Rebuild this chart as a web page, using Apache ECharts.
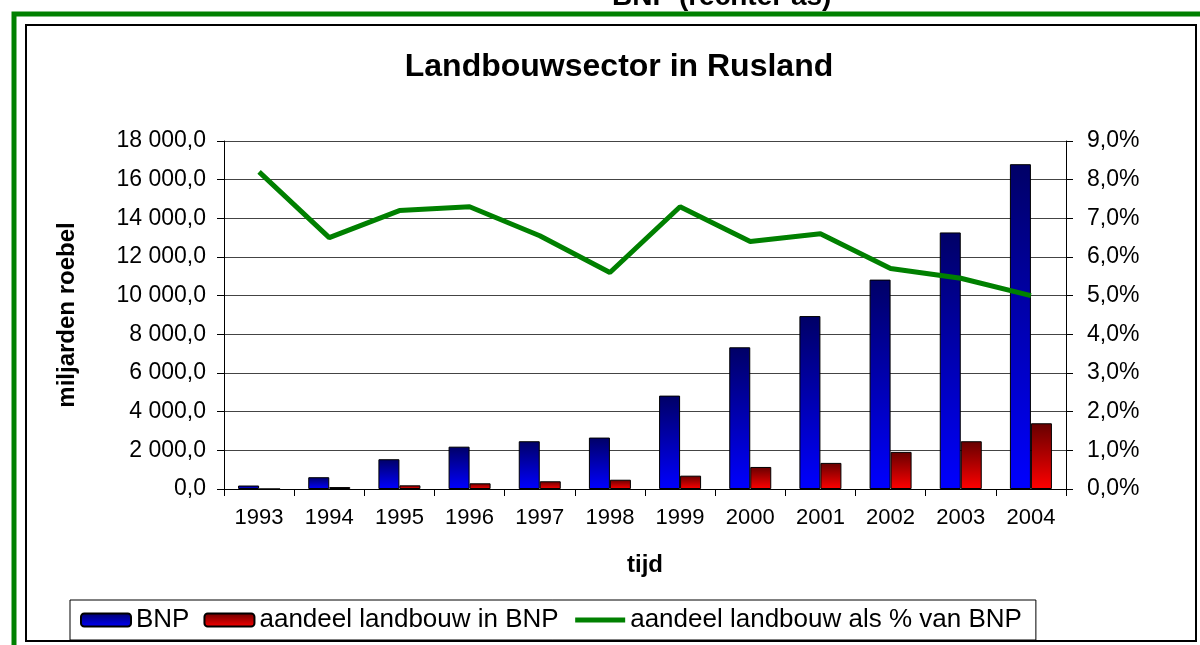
<!DOCTYPE html>
<html>
<head>
<meta charset="utf-8">
<title>Landbouwsector in Rusland</title>
<script src="https://cdn.jsdelivr.net/npm/echarts@6/dist/echarts.min.js"></script>
<style>
  html, body { margin: 0; padding: 0; background: #fff; }
  #chart { width: 1200px; height: 645px; }
</style>
</head>
<body>
<div id="chart"></div>
<script>
const years = ['1993', '1994', '1995', '1996', '1997', '1998', '1999', '2000', '2001', '2002', '2003', '2004'];
// miljarden roebel
const bnp = [180, 610, 1540, 2190, 2470, 2660, 4830, 7330, 8945, 10830, 13270, 16800];
const landbouw = [0, 100, 190, 295, 400, 480, 690, 1140, 1350, 1920, 2470, 3400];
// procent van BNP
const aandeelPct = [8.2, 6.5, 7.2, 7.3, 6.55, 5.6, 7.3, 6.4, 6.6, 5.7, 5.45, 5.0];

const FONT = '"Liberation Sans", Arial, sans-serif';

function fmtRoebel(v) {
  const int = Math.round(v).toString().replace(/\B(?=(\d{3})+(?!\d))/g, ' ');
  return int + ',0';
}

function fmtPct(v) {
  return v.toFixed(1).replace('.', ',') + '%';
}

function grad(top, bottom) {
  return new echarts.graphic.LinearGradient(0, 0, 0, 1, [
    { offset: 0, color: top },
    { offset: 1, color: bottom }
  ]);
}

const chart = echarts.init(document.getElementById('chart'));

const option = {
  animation: false,
  textStyle: { fontFamily: FONT, color: '#000' },
  title: {
    text: 'Landbouwsector in Rusland',
    left: 614,
    top: 46,
    textAlign: 'center',
    textStyle: { fontFamily: FONT, fontSize: 32, fontWeight: 'bold', color: '#000' }
  },
  graphic: [
    {
      type: 'text',
      left: 612,
      top: -17,
      style: {
        text: 'BNP (rechter as)',
        font: 'bold 28px ' + FONT,
        fill: '#000',
        textAlign: 'center'
      }
    },
    {
      type: 'rect',
      shape: { x: 14, y: 14, width: 1200, height: 700 },
      style: { fill: 'none', stroke: '#008000', lineWidth: 5 },
      silent: true
    },
    {
      type: 'rect',
      shape: { x: 26, y: 25, width: 1170, height: 616 },
      style: { fill: 'none', stroke: '#000', lineWidth: 2 },
      silent: true
    }
  ],
  legend: {
    left: 70,
    top: 600,
    padding: [7, 14, 7, 10],
    itemGap: 14,
    itemWidth: 50,
    itemHeight: 13,
    borderColor: '#000',
    borderWidth: 1,
    backgroundColor: '#fff',
    textStyle: { fontFamily: FONT, fontSize: 26, color: '#000' },
    data: [
      'BNP',
      'aandeel landbouw in BNP',
      {
        name: 'aandeel landbouw als % van BNP',
        itemStyle: { opacity: 0 },
        lineStyle: { width: 5, color: '#008000' }
      }
    ]
  },
  grid: {
    left: 224,
    right: 134,
    top: 141,
    bottom: 156
  },
  xAxis: {
    type: 'category',
    data: years,
    name: 'tijd',
    nameLocation: 'middle',
    nameGap: 64,
    nameTextStyle: { fontFamily: FONT, fontSize: 24, fontWeight: 'bold', color: '#000' },
    axisLine: { lineStyle: { color: '#000', width: 1 } },
    axisTick: { show: true, length: 7, lineStyle: { color: '#000' } },
    axisLabel: { fontSize: 22, color: '#000', margin: 18 },
    splitLine: { show: false }
  },
  yAxis: [
    {
      type: 'value',
      min: 0,
      max: 18000,
      interval: 2000,
      name: 'miljarden roebel',
      nameLocation: 'middle',
      nameGap: 145,
      nameRotate: 90,
      nameTextStyle: { fontFamily: FONT, fontSize: 24, fontWeight: 'bold', color: '#000' },
      axisLine: { show: true, lineStyle: { color: '#000', width: 1 } },
      axisTick: { show: true, length: 7, lineStyle: { color: '#000' } },
      axisLabel: { fontSize: 23, color: '#000', margin: 18, formatter: fmtRoebel },
      splitLine: { show: true, lineStyle: { color: '#444', width: 1 } }
    },
    {
      type: 'value',
      min: 0,
      max: 9,
      interval: 1,
      position: 'right',
      axisLine: { show: true, lineStyle: { color: '#000', width: 1 } },
      axisTick: { show: true, length: 7, lineStyle: { color: '#000' } },
      axisLabel: { fontSize: 23, color: '#000', margin: 21, formatter: fmtPct },
      splitLine: { show: false }
    }
  ],
  series: [
    {
      name: 'BNP',
      type: 'bar',
      yAxisIndex: 0,
      data: bnp,
      barWidth: 21,
      barGap: '0%',
      itemStyle: { color: grad('#000066', '#0000ff'), borderColor: '#000', borderWidth: 1 }
    },
    {
      name: 'aandeel landbouw in BNP',
      type: 'bar',
      yAxisIndex: 0,
      data: landbouw,
      barWidth: 21,
      barGap: '0%',
      itemStyle: { color: grad('#660000', '#ff0000'), borderColor: '#000', borderWidth: 1 }
    },
    {
      name: 'aandeel landbouw als % van BNP',
      type: 'line',
      yAxisIndex: 1,
      data: aandeelPct,
      symbol: 'none',
      z: 5,
      lineStyle: { color: '#008000', width: 5 },
      itemStyle: { color: '#008000' }
    }
  ]
};

chart.setOption(option);
</script>
</body>
</html>
